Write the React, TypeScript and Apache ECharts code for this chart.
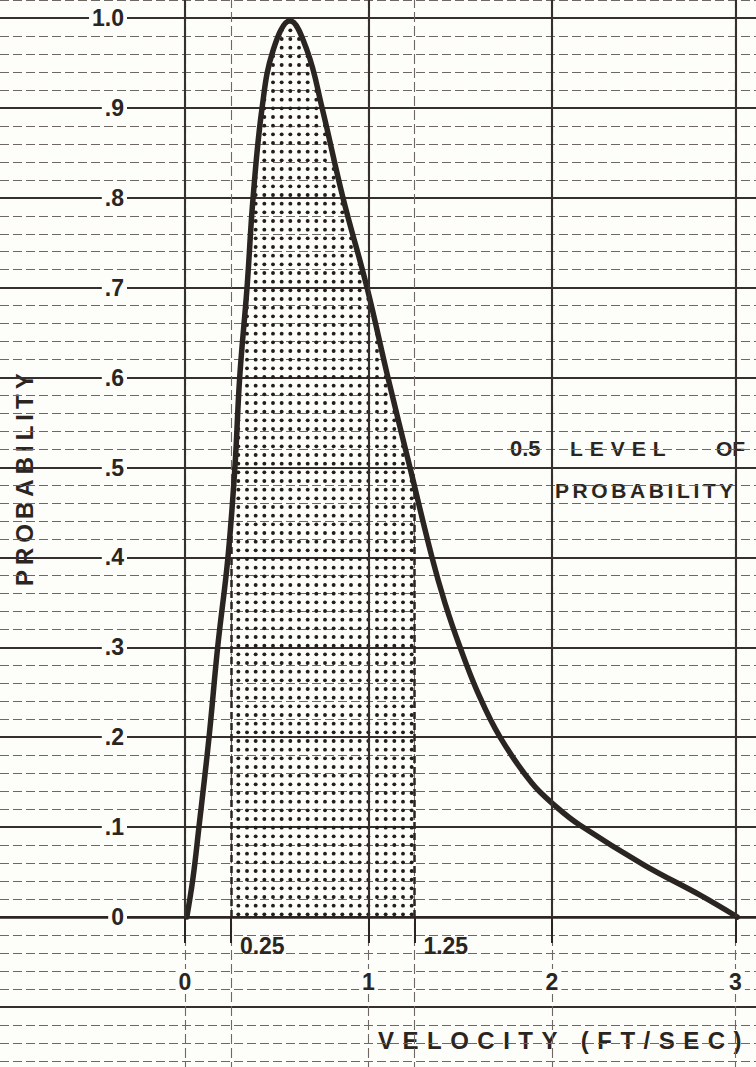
import React, { useEffect, useRef } from 'react';
import * as echarts from 'echarts';

// ---- data ----
const curveVelocity = [0.01, 0.044, 0.076, 0.131, 0.178, 0.234, 0.272, 0.298, 0.338, 0.371, 0.42, 0.48, 0.572, 0.665, 0.747, 0.861, 0.992, 1.106, 1.226, 1.346, 1.417, 1.499, 1.597, 1.717, 1.89, 2.027, 2.153, 2.5, 2.81, 3.01];
const curveProbability = [0, 0.044, 0.1, 0.2, 0.3, 0.4, 0.5, 0.6, 0.7, 0.8, 0.9, 0.964, 0.997, 0.964, 0.9, 0.8, 0.7, 0.6, 0.5, 0.4, 0.349, 0.3, 0.249, 0.2, 0.149, 0.122, 0.102, 0.058, 0.024, 0];

const shadeBounds = [0.25, 1.25];
const shadeTopAtBounds = [0.44, 0.48];

const xTickValues = [0, 1, 2, 3];
const xTickLabels = ['0', '1', '2', '3'];
const xMarkValues = [0.25, 1.25];
const xMarkLabels = ['0.25', '1.25'];
const yTickValues = [0, 0.1, 0.2, 0.3, 0.4, 0.5, 0.6, 0.7, 0.8, 0.9, 1.0];
const yTickLabels = ['0', '.1', '.2', '.3', '.4', '.5', '.6', '.7', '.8', '.9', '1.0'];
const inkedVerticals = [0, 1, 2, 3];

const X_MIN = -2, X_MAX = 4, Y_MIN = -0.2, Y_MAX = 1.1;

const BG = '#fdfdf9';
const INK = '#2b2522';
const MAJOR = '#35302d';
const MINOR = '#6e6864';
const FONT = '"Liberation Sans", Arial, sans-serif';

const findLabel = (vals: number[], labels: string[], v: number) => {
  const i = vals.findIndex((t) => Math.abs(t - v) < 1e-6);
  return i >= 0 ? labels[i] : '';
};

export default function App() {
  const ref = useRef<HTMLDivElement>(null);

  useEffect(() => {
    if (!ref.current) return;
    const chart = echarts.init(ref.current, undefined, { renderer: 'svg' });

    // plot-area placement (grid extends past the page so the paper grid fills it)
    const W = 756, H = 1067;
    const gLeft = -182, gRight = -163, gTop = -71.9, gBottom = -29.8;
    const gW = W - gLeft - gRight;
    const gH = H - gTop - gBottom;
    const zeroX = gLeft + gW * ((0 - X_MIN) / (X_MAX - X_MIN));
    const zeroY = gTop + gH * ((Y_MAX - 0) / (Y_MAX - Y_MIN));
    const yAxisOffset = -(zeroX - gLeft);
    const xAxisOffset = -((gTop + gH) - zeroY);

    // dot pattern for the shaded region
    const c = document.createElement('canvas');
    c.width = 26;
    c.height = 26;
    const ctx = c.getContext('2d');
    if (ctx) {
      ctx.fillStyle = '#241e1b';
      for (let i = 0; i < 3; i++) {
        for (let j = 0; j < 3; j++) {
          ctx.beginPath();
          ctx.arc(4.33 + i * 8.667, 4.33 + j * 8.667, 1.95, 0, Math.PI * 2);
          ctx.fill();
        }
      }
    }
    const pattern = { image: c.toDataURL(), repeat: 'repeat', imageWidth: 26, imageHeight: 26 };

    const curveData = curveVelocity.map((v, i) => [v, curveProbability[i]]);
    const shadeData: number[][] = [[shadeBounds[0], shadeTopAtBounds[0]]];
    curveVelocity.forEach((v, i) => {
      if (v > shadeBounds[0] && v < shadeBounds[1]) shadeData.push([v, curveProbability[i]]);
    });
    shadeData.push([shadeBounds[1], shadeTopAtBounds[1]]);

    const axisFont = { fontFamily: FONT, fontWeight: 'bold' as const, fontSize: 23, color: INK };

    const option: any = {
      animation: false,
      backgroundColor: BG,
      grid: { left: gLeft, right: gRight, top: gTop, bottom: gBottom, containLabel: false, outerBoundsMode: 'none' },
      xAxis: [
        {
          type: 'value', min: X_MIN, max: X_MAX, interval: 0.5, position: 'bottom', offset: xAxisOffset,
          axisLine: { show: true, onZero: false, lineStyle: { color: INK, width: 2.6 } },
          axisTick: { show: true, customValues: xTickValues.concat(xMarkValues), length: 26, lineStyle: { color: INK, width: 2 } },
          axisLabel: {
            customValues: xTickValues, margin: 52, ...axisFont,
            backgroundColor: BG, padding: [1, 3],
            formatter: (v: number) => findLabel(xTickValues, xTickLabels, v),
          },
          splitLine: { show: true, lineStyle: { color: MINOR, width: 1.1, type: [10, 4] } },
        },
        {
          type: 'value', min: X_MIN, max: X_MAX, interval: 0.5, position: 'bottom', gridIndex: 0, offset: xAxisOffset,
          axisLine: { show: false, onZero: false },
          axisTick: { show: false },
          axisLabel: {
            customValues: xMarkValues, margin: 17, align: 'left', padding: [0, 0, 0, 9], ...axisFont,
            formatter: (v: number) => findLabel(xMarkValues, xMarkLabels, v),
          },
          splitLine: { show: false },
        },
      ],
      yAxis: {
        type: 'value', min: Y_MIN, max: Y_MAX, interval: 0.1, position: 'left', offset: yAxisOffset,
        axisLine: { show: false, onZero: false },
        axisTick: { show: false },
        axisLabel: {
          customValues: yTickValues, margin: 58, ...axisFont,
          backgroundColor: BG, padding: [1, 3],
          formatter: (v: number) => findLabel(yTickValues, yTickLabels, v),
        },
        splitLine: { show: true, lineStyle: { color: MAJOR, width: 2.1 } },
        minorTick: { show: false, splitNumber: 5 },
        minorSplitLine: { show: true, lineStyle: { color: MINOR, width: 1.1, type: [9, 4] } },
      },
      series: [
        {
          type: 'line', name: 'shade', data: shadeData, smooth: 0.4, symbol: 'none', silent: true,
          lineStyle: { width: 0 },
          areaStyle: { color: pattern, opacity: 1 },
          z: 2,
          markLine: {
            silent: true, symbol: ['none', 'none'], label: { show: false },
            lineStyle: { color: INK, width: 2.5, type: [7, 4] },
            data: shadeBounds.map((b, i) => [{ coord: [b, 0] }, { coord: [b, shadeTopAtBounds[i]] }]),
          },
        },
        {
          type: 'line', name: 'probability', data: curveData, smooth: 0.4, symbol: 'none', silent: true,
          lineStyle: { color: INK, width: 5.5, cap: 'round', join: 'round' },
          z: 4,
          markLine: {
            silent: true, symbol: ['none', 'none'], label: { show: false },
            lineStyle: { color: MAJOR, width: 2.1, type: 'solid' },
            data: inkedVerticals.map((v) => [{ coord: [v, 0] }, { coord: [v, Y_MAX] }]),
          },
        },
      ],
      graphic: [
        {
          type: 'text', x: 24, y: 586, rotation: Math.PI / 2, silent: true,
          style: { text: 'PROBABILITY', fontFamily: FONT, fontWeight: 'bold', fontSize: 24, fill: INK, textAlign: 'left', textVerticalAlign: 'middle' },
        },
        {
          type: 'text', x: 378, y: 1040, silent: true,
          style: { text: 'VELOCITY (FT/SEC)', fontFamily: FONT, fontWeight: 'bold', fontSize: 24, fill: INK, textAlign: 'left', textVerticalAlign: 'middle' },
        },
        {
          type: 'text', x: 510, y: 448, silent: true,
          style: { text: '0.5', fontFamily: FONT, fontWeight: 'bold', fontSize: 22, fill: INK, textAlign: 'left', textVerticalAlign: 'middle' },
        },
        {
          type: 'text', x: 570, y: 448, silent: true,
          style: { text: 'LEVEL', fontFamily: FONT, fontWeight: 'bold', fontSize: 21, fill: INK, textAlign: 'left', textVerticalAlign: 'middle' },
        },
        {
          type: 'text', x: 716, y: 448, silent: true,
          style: { text: 'OF', fontFamily: FONT, fontWeight: 'bold', fontSize: 21, fill: INK, textAlign: 'left', textVerticalAlign: 'middle' },
        },
        {
          type: 'text', x: 555, y: 490, silent: true,
          style: { text: 'PROBABILITY', fontFamily: FONT, fontWeight: 'bold', fontSize: 21, fill: INK, textAlign: 'left', textVerticalAlign: 'middle' },
        },
      ],
    };

    chart.setOption(option);

    const applySpacing = () => {
      if (!ref.current) return;
      ref.current.querySelectorAll('text').forEach((t) => {
        const txt = t.textContent;
        const fs = parseFloat(getComputedStyle(t).fontSize || '0');
        if (txt === 'VELOCITY (FT/SEC)') t.setAttribute('letter-spacing', '8.5');
        else if (txt === 'PROBABILITY') t.setAttribute('letter-spacing', fs > 22 ? '5' : '3.6');
        else if (txt === 'LEVEL') t.setAttribute('letter-spacing', '7');
      });
    };
    applySpacing();
    chart.on('finished', applySpacing);
    const raf = requestAnimationFrame(applySpacing);

    return () => {
      cancelAnimationFrame(raf);
      chart.dispose();
    };
  }, []);

  return (
    <div
      ref={ref}
      style={{ position: 'absolute', left: 0, top: 0, width: 756, height: 1067, background: BG }}
    />
  );
}
